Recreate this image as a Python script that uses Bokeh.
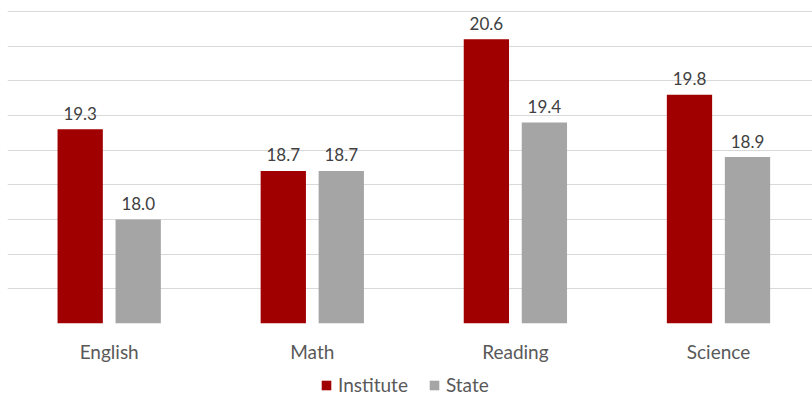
import numpy as np
from bokeh.plotting import figure
from bokeh.layouts import column
from bokeh.models import (ColumnDataSource, Range1d, FixedTicker, Legend, LegendItem)
from bokeh.core.properties import value
from bokeh.embed import file_html
from bokeh.resources import INLINE

# Average scores by subject
categories = ["English", "Math", "Reading", "Science"]
institute = [19.3, 18.7, 20.6, 19.8]
state = [18.0, 18.7, 19.4, 18.9]
series_names = ["Institute", "State"]
grid_ticks = [16.5, 17.0, 17.5, 18.0, 18.5, 19.0, 19.5, 20.0, 20.5, 21.0]

RED = "#A00000"
GREY = "#A5A5A5"
FONT = "Lato"

idx = np.arange(len(categories))
offset = 0.1428
bar_w = 0.223

src_i = ColumnDataSource(dict(x=idx - offset, top=institute,
                              lab=[f"{v:.1f}" for v in institute]))
src_s = ColumnDataSource(dict(x=idx + offset, top=state,
                              lab=[f"{v:.1f}" for v in state]))

# main chart; a hair of headroom so the 21.0 gridline is not lost on the frame edge
p = figure(width=812, height=370, output_backend="svg", toolbar_location=None,
           x_range=Range1d(-0.5007, 3.4629),
           y_range=Range1d(grid_ticks[0], grid_ticks[-1] + 0.0145),
           y_axis_location=None,
           min_border_left=7, min_border_right=0, min_border_top=10, min_border_bottom=47)
p.outline_line_color = None
p.background_fill_color = "white"
p.border_fill_color = "white"

p.xgrid.grid_line_color = None
p.ygrid.ticker = FixedTicker(ticks=grid_ticks)
p.ygrid.grid_line_color = "#D9D9D9"
p.ygrid.grid_line_width = 1

p.vbar(x="x", top="top", bottom=grid_ticks[0], width=bar_w, source=src_i,
       fill_color=RED, line_color=None)
p.vbar(x="x", top="top", bottom=grid_ticks[0], width=bar_w, source=src_s,
       fill_color=GREY, line_color=None)

for src in (src_i, src_s):
    p.text(x="x", y="top", text="lab", source=src, y_offset=-16,
           text_align="center", text_baseline="alphabetic",
           text_font=value(FONT), text_font_size="17px", text_color="#404040")

xa = p.xaxis[0]
xa.ticker = FixedTicker(ticks=list(idx))
xa.major_label_overrides = {int(i): c for i, c in zip(idx, categories)}
xa.axis_line_color = None
xa.major_tick_line_color = None
xa.minor_tick_line_color = None
xa.major_tick_out = 0
xa.major_tick_in = 0
xa.major_label_standoff = 16
xa.major_label_text_font = FONT
xa.major_label_text_font_size = "19px"
xa.major_label_text_color = "#595959"

# legend strip underneath the chart; its ranges keep the swatch renderers out of view
leg = figure(width=812, height=26, output_backend="svg", toolbar_location=None,
             x_range=Range1d(100, 104), y_range=Range1d(100, 101),
             x_axis_location=None, y_axis_location=None,
             min_border_left=7, min_border_right=0, min_border_top=0, min_border_bottom=0)
leg.outline_line_color = None
leg.xgrid.visible = False
leg.ygrid.visible = False
l_i = leg.vbar(x="x", top="top", bottom=grid_ticks[0], width=bar_w, source=src_i,
               fill_color=RED, line_color=None)
l_s = leg.vbar(x="x", top="top", bottom=grid_ticks[0], width=bar_w, source=src_s,
               fill_color=GREY, line_color=None)

legend = Legend(items=[LegendItem(label=series_names[0], renderers=[l_i]),
                       LegendItem(label=series_names[1], renderers=[l_s])],
                orientation="horizontal", location=(313, 0),
                glyph_width=12, glyph_height=12, label_standoff=6, spacing=20,
                padding=0, margin=0, border_line_color=None,
                background_fill_alpha=0,
                label_text_font=FONT, label_text_font_size="19px",
                label_text_line_height=1.0,
                label_text_color="#595959")
leg.add_layout(legend, "center")

open("out.html", "w").write(file_html(column(p, leg, spacing=0), INLINE))
